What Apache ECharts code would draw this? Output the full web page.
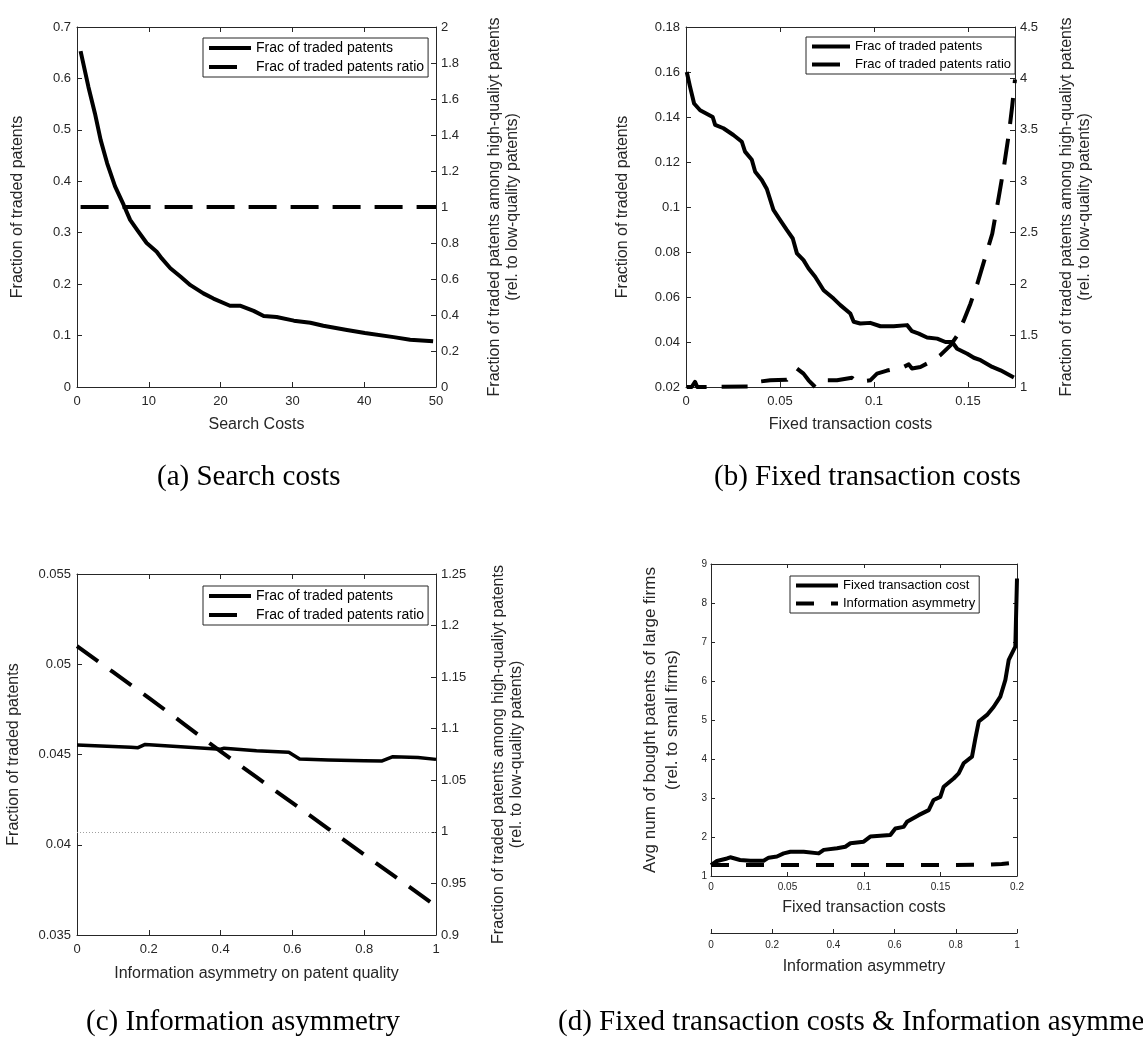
<!DOCTYPE html>
<html>
<head>
<meta charset="utf-8">
<script src="https://cdn.jsdelivr.net/npm/echarts@6/dist/echarts.min.js"></script>
<style>html,body{margin:0;padding:0;background:#fff}#c{width:1143px;height:1046px}</style>
</head>
<body>
<div id="c"></div>
<script>
// ---------- Panel (a): Search costs ----------
const aSearchCost = [0.5,1.6,2.5,3.3,4.2,5.3,6.5,7.4,8.4,9.7,11.1,11.8,13,14.4,15.8,17.6,19,21.3,22.7,24.6,26,27.8,30.2,32.5,34.3,37.6,40.1,44.1,46.4,49.6];
const aFracTraded = [0.653,0.583,0.532,0.48,0.435,0.39,0.354,0.325,0.305,0.28,0.263,0.25,0.231,0.215,0.198,0.182,0.172,0.158,0.158,0.148,0.138,0.136,0.129,0.125,0.119,0.111,0.105,0.097,0.092,0.089];
const aRatioX = [0.5, 50];
const aRatio = [1, 1];

// ---------- Panel (b): Fixed transaction costs ----------
const bFixedCost = [0.0004,0.0021,0.0043,0.0075,0.0142,0.0155,0.0199,0.0252,0.0297,0.0314,0.035,0.0368,0.0403,0.043,0.0465,0.0501,0.0536,0.0568,0.059,0.0625,0.0652,0.0687,0.0732,0.0785,0.0821,0.0874,0.0892,0.0927,0.098,0.1034,0.1105,0.1176,0.1202,0.1238,0.1282,0.1336,0.138,0.1416,0.1442,0.1496,0.1531,0.1567,0.1629,0.1673,0.1744];
const bFracTraded = [0.160,0.1536,0.146,0.143,0.140,0.1365,0.135,0.132,0.129,0.1246,0.121,0.1157,0.112,0.108,0.0987,0.0942,0.0898,0.086,0.0794,0.0764,0.0727,0.069,0.063,0.0593,0.0564,0.0527,0.049,0.0482,0.0485,0.047,0.047,0.0475,0.0448,0.0437,0.042,0.0415,0.040,0.040,0.037,0.0348,0.033,0.0319,0.0289,0.0274,0.0242];
const bRatioX = [0.0004,0.003,0.0048,0.006,0.0341,0.0377,0.0448,0.0536,0.059,0.0625,0.0652,0.0687,0.0732,0.0803,0.0883,0.0909,0.098,0.1016,0.1069,0.1158,0.1185,0.1202,0.1247,0.13,0.1353,0.1407,0.1442,0.1478,0.1513,0.1549,0.1593,0.1629,0.1664,0.1691,0.1718,0.1735,0.175];
const bRatio = [1.0,1.0,1.05,1.0,1.005,1.05,1.065,1.07,1.18,1.13,1.065,1.0,1.065,1.065,1.09,1.05,1.065,1.13,1.16,1.195,1.22,1.18,1.195,1.245,1.31,1.405,1.5,1.65,1.81,2.0,2.27,2.49,2.85,3.14,3.47,3.73,3.99];

// ---------- Panel (c): Information asymmetry ----------
const cInfoAsym = [0,0.1,0.15,0.17,0.19,0.3,0.4,0.41,0.5,0.59,0.62,0.7,0.8,0.85,0.88,0.95,1.0];
const cFracTraded = [0.04553,0.04545,0.0454,0.04538,0.04556,0.04542,0.04529,0.04535,0.04521,0.04512,0.04475,0.0447,0.04466,0.04464,0.04488,0.04483,0.04473];
const cRatioX = [0,0.1,0.2,0.3,0.4,0.5,0.6,0.7,0.8,0.9,1.0];
const cRatio = [1.18,1.155,1.13,1.104,1.078,1.053,1.028,1.003,0.978,0.953,0.928];

// ---------- Panel (d): Fixed transaction costs & Information asymmetry ----------
const dFixedCost = [0,0.0039,0.0105,0.0126,0.019,0.0257,0.0344,0.0377,0.0431,0.0475,0.0519,0.0606,0.0704,0.0737,0.0824,0.0878,0.0911,0.0998,0.1041,0.1172,0.1205,0.1259,0.1281,0.1357,0.1423,0.1455,0.1499,0.1521,0.1586,0.1619,0.1651,0.1706,0.1728,0.175,0.1804,0.1848,0.1891,0.1924,0.1946,0.1989,0.2];
const dAvgBoughtFixed = [1.28,1.385,1.45,1.48,1.41,1.39,1.39,1.47,1.5,1.58,1.62,1.62,1.58,1.67,1.71,1.75,1.84,1.88,2.01,2.05,2.22,2.26,2.39,2.56,2.69,2.95,3.03,3.29,3.5,3.63,3.89,4.06,4.53,4.96,5.13,5.34,5.6,6.03,6.54,6.88,8.63];
const dInfoAsym = [0,0.2,0.4,0.6,0.8,0.9,0.95,1.0];
const dAvgBoughtInfo = [1.28,1.28,1.28,1.28,1.28,1.29,1.31,1.35];

// ---------- Text ----------
const captions = ['(a) Search costs', '(b) Fixed transaction costs', '(c) Information asymmetry', '(d) Fixed transaction costs & Information asymmetry'];
const nameFrac = 'Frac of traded patents';
const nameRatio = 'Frac of traded patents ratio';
const yLeftName = 'Fraction of traded patents';
const yRightName = 'Fraction of traded patents among high-qualiyt patents\n(rel. to low-quality patents)';

const AX = '#262626';
const SANS = '"Liberation Sans", Arial, sans-serif';
const zip = (xs, ys) => xs.map((v, i) => [v, ys[i]]);

function axis(o) {
  const fs = o.fs || 13;
  return Object.assign({
    type: 'value',
    axisLine: { show: true, onZero: false, lineStyle: { color: AX, width: 1 } },
    axisTick: { show: true, inside: true, length: o.tick || 5, lineStyle: { color: AX, width: 1 } },
    splitLine: { show: false },
    axisLabel: { show: !o.mirror, color: AX, fontSize: fs, fontFamily: SANS, margin: o.margin || 8,
                 showMaxLabel: o.showMax === false ? false : null },
    nameLocation: 'middle',
    nameTextStyle: { color: AX, fontSize: o.nfs || 16, fontFamily: SANS, lineHeight: o.lh || 18 }
  }, o.extra);
}

const xAxis = [
  axis({ extra: { gridIndex: 0, position: 'bottom', min: 0, max: 50, interval: 10, name: 'Search Costs', nameGap: 29 } }),
  axis({ mirror: true, extra: { gridIndex: 0, position: 'top', min: 0, max: 50, interval: 10 } }),
  axis({ showMax: false, extra: { gridIndex: 1, position: 'bottom', min: 0, max: 0.175, interval: 0.05, name: 'Fixed transaction costs', nameGap: 29 } }),
  axis({ mirror: true, extra: { gridIndex: 1, position: 'top', min: 0, max: 0.175, interval: 0.05 } }),
  axis({ extra: { gridIndex: 2, position: 'bottom', min: 0, max: 1, interval: 0.2, name: 'Information asymmetry on patent quality', nameGap: 30 } }),
  axis({ mirror: true, extra: { gridIndex: 2, position: 'top', min: 0, max: 1, interval: 0.2 } }),
  axis({ fs: 10, margin: 6, tick: 4, extra: { gridIndex: 3, position: 'bottom', min: 0, max: 0.2, interval: 0.05, name: 'Fixed transaction costs', nameGap: 23 } }),
  axis({ fs: 10, margin: 7, tick: 4, extra: { gridIndex: 3, position: 'bottom', offset: 57, min: 0, max: 1, interval: 0.2, name: 'Information asymmetry', nameGap: 25 } }),
  axis({ mirror: true, tick: 4, extra: { gridIndex: 3, position: 'top', min: 0, max: 0.2, interval: 0.05 } })
];

const yAxis = [
  axis({ margin: 6, extra: { gridIndex: 0, position: 'left', min: 0, max: 0.7, interval: 0.1, name: yLeftName, nameGap: 50, nameRotate: 90 } }),
  axis({ margin: 5, extra: { gridIndex: 0, position: 'right', min: 0, max: 2, interval: 0.2, name: yRightName, nameGap: 50, nameRotate: 90 } }),
  axis({ margin: 6, extra: { gridIndex: 1, position: 'left', min: 0.02, max: 0.18, interval: 0.02, name: yLeftName, nameGap: 54, nameRotate: 90 } }),
  axis({ margin: 5, extra: { gridIndex: 1, position: 'right', min: 1, max: 4.5, interval: 0.5, name: yRightName, nameGap: 43, nameRotate: 90 } }),
  axis({ margin: 6, extra: { gridIndex: 2, position: 'left', min: 0.035, max: 0.055, interval: 0.005, name: yLeftName, nameGap: 54, nameRotate: 90 } }),
  axis({ margin: 5, extra: { gridIndex: 2, position: 'right', min: 0.9, max: 1.25, interval: 0.05, name: yRightName, nameGap: 54, nameRotate: 90 } }),
  axis({ fs: 10, margin: 4, tick: 4, nfs: 17, lh: 22, extra: { gridIndex: 3, position: 'left', min: 1, max: 9, interval: 1, name: 'Avg num of bought patents of large firms\n(rel. to small firms)', nameGap: 28, nameRotate: 90 } }),
  axis({ mirror: true, tick: 4, extra: { gridIndex: 3, position: 'right', min: 1, max: 9, interval: 1 } })
];

function line(name, x, y, xi, yi, w, dash) {
  return {
    type: 'line', name: name, xAxisIndex: xi, yAxisIndex: yi, data: zip(x, y),
    symbol: 'none', smooth: false, silent: true, animation: false,
    lineStyle: { color: '#000', width: w, type: dash || 'solid', cap: 'butt', join: 'round' },
    itemStyle: { color: '#000' }
  };
}

const sC = line(nameRatio, cRatioX, cRatio, 4, 5, 4, [26, 15]);
sC.markLine = {
  silent: true, symbol: ['none', 'none'], label: { show: false },
  lineStyle: { color: '#a0a0a0', type: [1, 2], width: 1 },
  data: [{ yAxis: 1 }]
};

const series = [
  line(nameFrac, aSearchCost, aFracTraded, 0, 0, 4),
  line(nameRatio, aRatioX, aRatio, 0, 1, 4, [28, 14]),
  line(nameFrac, bFixedCost, bFracTraded, 2, 2, 4),
  line(nameRatio, bRatioX, bRatio, 2, 3, 4, [26, 15]),
  line(nameFrac, cInfoAsym, cFracTraded, 4, 4, 3.5),
  sC,
  line('Fixed transaction cost', dFixedCost, dAvgBoughtFixed, 6, 6, 4),
  line('Information asymmetry', dInfoAsym, dAvgBoughtInfo, 7, 6, 4, [18, 17])
];

function legend(left, top, names, fs, iw) {
  return {
    left: left, top: top, orient: 'vertical', data: names,
    backgroundColor: '#fff', borderColor: AX, borderWidth: 1, borderRadius: 0,
    padding: [3, 4], itemGap: 5, itemWidth: iw, itemHeight: 14, selectedMode: false,
    itemStyle: { color: 'rgba(0,0,0,0)', borderWidth: 0, opacity: 0 },
    lineStyle: { width: 4 },
    textStyle: { color: '#000', fontSize: fs, fontFamily: SANS }
  };
}

function caption(text, left, top) {
  return { text: text, left: left, top: top, padding: 0,
           textStyle: { fontFamily: '"Liberation Serif", "Times New Roman", serif', fontWeight: 'normal', fontSize: 29, color: '#000' } };
}

const option = {
  backgroundColor: '#fff',
  animation: false,
  title: [
    caption(captions[0], 157, 463),
    caption(captions[1], 714, 463),
    caption(captions[2], 86, 1008),
    caption(captions[3], 558, 1008)
  ],
  grid: [
    { left: 77, top: 27, width: 359, height: 360 },
    { left: 686, top: 27, width: 329, height: 360 },
    { left: 77, top: 574, width: 359, height: 361 },
    { left: 711, top: 564, width: 306, height: 312 }
  ],
  legend: [
    legend(203, 38, [nameFrac, nameRatio], 14, 42),
    legend(806, 37, [nameFrac, nameRatio], 13, 38),
    legend(203, 586, [nameFrac, nameRatio], 14, 42),
    legend(790, 576, ['Fixed transaction cost', 'Information asymmetry'], 13, 42)
  ],
  xAxis: xAxis,
  yAxis: yAxis,
  series: series
};

const chart = echarts.init(document.getElementById('c'), null, { renderer: 'canvas' });
chart.setOption(option);
</script>
</body>
</html>
